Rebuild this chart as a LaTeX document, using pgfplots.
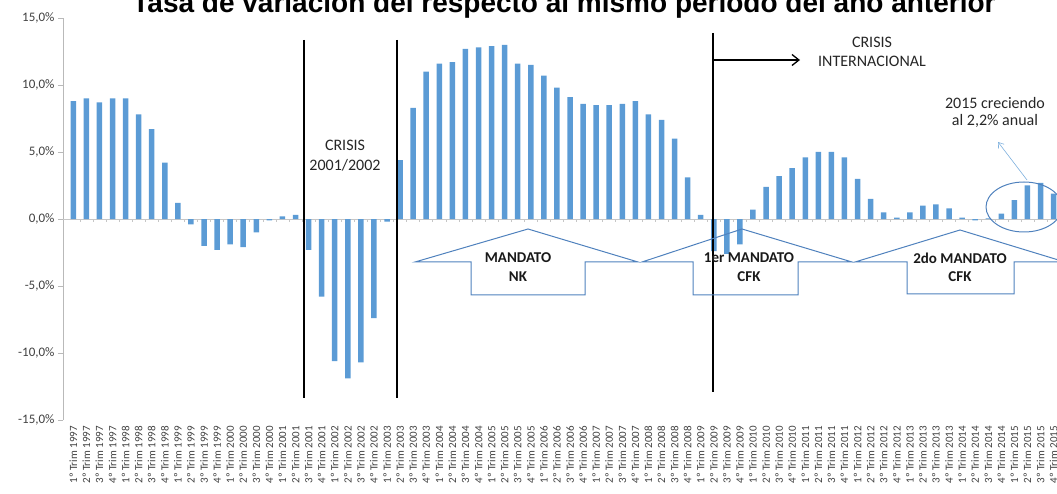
\documentclass[border=0pt]{standalone}
\usepackage{fontspec}
\setmainfont{Carlito}
\newfontfamily\titlefont{Liberation Sans}
\usepackage{pgfplots}
\pgfplotsset{compat=1.18}
\usetikzlibrary{arrows.meta}
\definecolor{barblue}{HTML}{5B9BD5}
\definecolor{shapeblue}{HTML}{4F81BD}
\definecolor{txtgray}{HTML}{404040}

\pgfplotstableread{
i v
0 8.8
1 9.0
2 8.7
3 9.0
4 9.0
5 7.8
6 6.7
7 4.2
8 1.2
9 -0.4
10 -2.0
11 -2.3
12 -1.9
13 -2.1
14 -1.0
15 -0.1
16 0.2
17 0.3
18 -2.3
19 -5.8
20 -10.6
21 -11.9
22 -10.7
23 -7.4
24 -0.2
25 4.4
26 8.3
27 11.0
28 11.6
29 11.7
30 12.7
31 12.8
32 12.9
33 13.0
34 11.6
35 11.5
36 10.7
37 9.8
38 9.1
39 8.6
40 8.5
41 8.5
42 8.6
43 8.8
44 7.8
45 7.4
46 6.0
47 3.1
48 0.3
49 -2.4
50 -2.6
51 -1.9
52 0.7
53 2.4
54 3.2
55 3.8
56 4.6
57 5.0
58 5.0
59 4.6
60 3.0
61 1.5
62 0.5
63 0.1
64 0.5
65 1.0
66 1.1
67 0.8
68 0.1
69 -0.1
70 0.05
71 0.4
72 1.4
73 2.5
74 2.7
75 1.9
}\gdp

\begin{document}
\begin{tikzpicture}
\begin{axis}[
  at={(63pt,73pt)}, anchor=south west, scale only axis,
  width=994pt, height=402pt,
  xmin=-0.79, xmax=75.26, ymin=-15, ymax=15,
  axis y line*=left, axis x line*=bottom,
  x axis line style={draw=none},
  y axis line style={draw=gray!55, line width=0.8pt},
  ytick={-15,-10,...,15},
  yticklabels={{-15,0\%},{-10,0\%},{-5,0\%},{0,0\%},{5,0\%},{10,0\%},{15,0\%}},
  ytick style={draw=gray!55, line width=0.8pt},
  tick align=outside, major tick length=5pt,
  xtick={0,...,75},
  major x tick style={draw=none},
  xticklabel={\pgfmathtruncatemacro\q{mod(\ticknum,4)+1}\pgfmathtruncatemacro\yr{1997+floor(\ticknum/4)}\q º Trim \yr},
  x tick label style={rotate=90, anchor=east, font=\fontsize{11}{11}\selectfont, text=txtgray, inner sep=1pt},
  y tick label style={font=\fontsize{13}{13}\selectfont, text=txtgray},
  clip=false,
]
\draw[gray!45, line width=0.8pt] (axis cs:-0.79,0) -- (axis cs:75.26,0);
\pgfplotsinvokeforeach{0,...,74}{\draw[gray!45, line width=0.6pt] (axis cs:#1.5,0) -- ++(0pt,-3pt);}
\addplot[ybar, bar width=5.5pt, fill=barblue, draw=none] table[x=i, y=v] {\gdp};
\end{axis}

\begin{scope}[x=1pt, y=-1pt, shift={(0pt,493pt)}]
  % title (top cut off as in the reference)
  \begin{scope}
    \clip (0,0) rectangle (1057,493);
    \node[anchor=base, font=\titlefont\bfseries\fontsize{28}{28}\selectfont, inner sep=0pt] at (564,13) {Tasa de variación del respecto al mismo período del año anterior};
  \end{scope}
  % crisis lines
  \draw[black, line width=1.5pt] (304,40) -- (304,398);
  \draw[black, line width=1.5pt] (397,40) -- (397,398);
  \draw[black, line width=1.5pt] (713,33) -- (713,392);
  \draw[black, line width=1.3pt, -{Straight Barb[length=7pt, width=11pt]}] (713,60) -- (800,60);
  \node[font=\fontsize{16}{16}\selectfont, text=black!85] at (872,42) {CRISIS};
  \node[font=\fontsize{16}{16}\selectfont, text=black!85] at (872,61) {INTERNACIONAL};
  \node[font=\fontsize{16}{16}\selectfont, text=black!85] at (345,145) {CRISIS};
  \node[font=\fontsize{16}{16}\selectfont, text=black!85] at (345,165) {2001/2002};
  % 2015 note
  \node[font=\fontsize{16}{16}\selectfont, text=black!85] at (995,103) {2015 creciendo};
  \node[font=\fontsize{16}{16}\selectfont, text=black!85] at (995,121) {al 2,2\% anual};
  \draw[barblue!80, line width=0.6pt, -{Straight Barb[length=5pt, width=7pt]}] (1027,180) -- (998,142);
  \draw[shapeblue, line width=1pt] (1024,207) ellipse [x radius=38, y radius=25];
  % mandate shapes
  \draw[shapeblue, line width=1pt] (415,262) -- (528,229) -- (638,262) -- (585,262) -- (585,295) -- (471,295) -- (471,262) -- cycle;
  \draw[shapeblue, line width=1pt] (642,262) -- (742,229) -- (852,262) -- (798,262) -- (798,295) -- (693,295) -- (693,262) -- cycle;
  \draw[shapeblue, line width=1pt] (855,262) -- (960,230) -- (1065,262) -- (1014,262) -- (1014,294) -- (907,294) -- (907,262) -- cycle;
  \node[font=\bfseries\fontsize{15}{15}\selectfont, text=black!90] at (518,258) {MANDATO};
  \node[font=\bfseries\fontsize{15}{15}\selectfont, text=black!90] at (518,277) {NK};
  \node[font=\bfseries\fontsize{15}{15}\selectfont, text=black!90] at (749,258) {1er MANDATO};
  \node[font=\bfseries\fontsize{15}{15}\selectfont, text=black!90] at (749,277) {CFK};
  \node[font=\bfseries\fontsize{15}{15}\selectfont, text=black!90] at (960,258) {2do MANDATO};
  \node[font=\bfseries\fontsize{15}{15}\selectfont, text=black!90] at (960,277) {CFK};
\end{scope}
\pgfresetboundingbox
\useasboundingbox (0,0) rectangle (1057pt,493pt);
\end{tikzpicture}
\end{document}
